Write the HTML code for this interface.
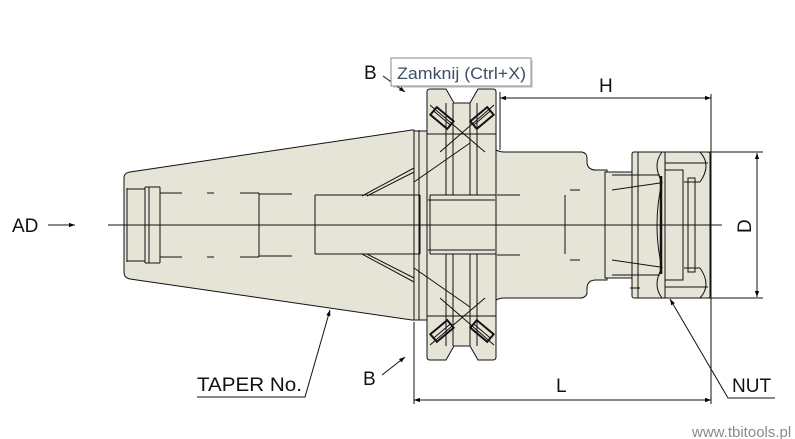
<!DOCTYPE html>
<html><head><meta charset="utf-8"><style>
html,body{margin:0;padding:0;background:#fff;}
svg{display:block;}
text{font-family:"Liberation Sans",sans-serif;}
</style></head><body>
<svg width="795" height="439" viewBox="0 0 795 439" xmlns="http://www.w3.org/2000/svg">
<defs>
<marker id="ar" viewBox="0 0 10 10" refX="10" refY="5" markerWidth="10" markerHeight="6" orient="auto-start-reverse" markerUnits="userSpaceOnUse"><path d="M0,1.5 L10,5 L0,8.5 z" fill="#000"/></marker>
<g id="brg" stroke="#111" fill="none">
<rect x="-11" y="-5" width="22" height="10" stroke-width="2"/>
<line x1="-11" y1="0" x2="11" y2="0" stroke-width="1"/>
</g>
</defs>
<g stroke="#111" stroke-width="1" fill="#e6e4d6">
<path d="M130,172 L412,130 L414,130 L414,320 L412,320 L130,279 Q124,278 124,272 L124,178 Q124,173 130,172 Z"/>
<rect x="414" y="131" width="13" height="189"/>
<path d="M496,150 Q500,152 504,152 L582,152 Q587,153 587,158 L587,163 Q588,170 596,170 L607,170 L607,280 L596,280 Q588,280 587,287 L587,293 Q586,298 580,298 L504,298 Q500,298 496,300 Z"/>
<rect x="605" y="172" width="27" height="106"/>
<rect x="632" y="152" width="78" height="146" rx="2"/>
<path d="M427,92 Q427,89 430,89 L446,89 L454,103 L470,103 L478,89 L493,89 Q496,89 496,92 L496,357 Q496,360 493,360 L478,360 L470,346 L454,346 L446,360 L430,360 Q427,360 427,357 Z"/>
</g>
<g stroke="#111" stroke-width="1" fill="none">
<path d="M127,188 L127,262 M127,189 L145,189 M127,261 L145,261 M145,187 L160,187 M145,263 L160,263 M145,187 L145,263 M149,187 L149,263 M160,187 L160,263 M160,193 L182,193 M207,193 L214,193 M160,257 L182,257 M207,257 L214,257 M240,193 L259,193 M240,257 L259,257 M259,193 L259,257 M259,194 L292,194 M259,256 L292,256"/>
<path d="M315,195 L315,254 M315,195 L420,195 M315,254 L420,254 M420,195 L420,254"/>
<path d="M362,196 L414,168 M367,196 L414,172 M362,254 L414,282 M367,254 L414,278"/>
<path d="M419,130 L419,320"/>
<path d="M414,182 L470,143 M414,268 L470,307 M430,195 L430,254 M428,200 L495,200 M428,250 L495,250 M430,195 L496,195 M430,254 L496,254"/>
<path d="M446,103 L446,195 M453,103 L453,195 M470,103 L470,195 M477,103 L477,195 M446,254 L446,346 M453,254 L453,346 M470,254 L470,346 M477,254 L477,346"/>
<path d="M430,105 L485,152 M494,105 L440,152 M427,134 L496,134"/>
<path d="M430,345 L485,298 M494,345 L440,298 M427,316 L496,316"/>
<path d="M497,195 L520,195 M497,255 L520,255 M565,195 L565,254 M570,190 L580,190 M570,260 L580,260"/>
<path d="M612,175 L660,175 M612,275 L660,275 M612,190 L660,183 M612,260 L660,267"/>
<path d="M638,152 L638,298 M665,152 L665,298 M665,170 L683,170 L683,280 L665,280 M688,178 L695,178 L695,272 L688,272 Z M684,182 L700,182 M684,268 L700,268"/>
<path d="M662,152 Q652,165 662,182 Q652,225 662,268 Q652,285 662,298 M700,152 Q712,165 700,182 M700,268 Q712,285 700,298 M665,163 L708,163 M665,287 L708,287"/>
<path d="M630,288 L640,288 M632,283 L632,293"/>
</g>
<path d="M661,176 L661,274" stroke="#111" stroke-width="2.5"/>
<use href="#brg" transform="translate(442,118) rotate(40)"/>
<use href="#brg" transform="translate(482,118) rotate(-40)"/>
<use href="#brg" transform="translate(442,331) rotate(-40)"/>
<use href="#brg" transform="translate(482,331) rotate(40)"/>
<line x1="108" y1="225" x2="722" y2="225" stroke="#111" stroke-width="1"/>
<g stroke="#111" stroke-width="1" fill="none">
<line x1="500" y1="92" x2="500" y2="150"/>
<line x1="711" y1="94" x2="711" y2="404"/>
<line x1="414" y1="322" x2="414" y2="404"/>
<line x1="500" y1="98" x2="711" y2="98" marker-start="url(#ar)" marker-end="url(#ar)"/>
<line x1="414" y1="400" x2="711" y2="400" marker-start="url(#ar)" marker-end="url(#ar)"/>
<line x1="690" y1="152" x2="763" y2="152"/>
<line x1="690" y1="298" x2="763" y2="298"/>
<line x1="757" y1="153" x2="757" y2="297" marker-start="url(#ar)" marker-end="url(#ar)"/>
<line x1="48" y1="225" x2="75" y2="225" marker-end="url(#ar)"/>
<polyline points="197,397 305,397 330,310" marker-end="url(#ar)"/>
<polyline points="775,398 728,398 670,299" marker-end="url(#ar)"/>
<line x1="383" y1="76" x2="405" y2="92" marker-end="url(#ar)"/>
<line x1="382" y1="375" x2="405" y2="357" marker-end="url(#ar)"/>
</g>
<g fill="#111" font-size="19">
<text x="12" y="232">AD</text>
<text x="599" y="92">H</text>
<text x="556" y="392">L</text>
<text x="197" y="391" textLength="105" lengthAdjust="spacingAndGlyphs">TAPER No.</text>
<text x="732" y="392">NUT</text>
<text x="364" y="79">B</text>
<text x="363" y="385">B</text>
<text x="0" y="0" transform="translate(751,233) rotate(-90)">D</text>
</g>
<rect x="393" y="60" width="140" height="28" fill="#666" opacity="0.25"/>
<rect x="391" y="58" width="140" height="28" fill="#fff" stroke="#888" stroke-width="1"/>
<text x="397" y="79" font-size="16.5" fill="#3b4f66" textLength="129" lengthAdjust="spacingAndGlyphs">Zamknij (Ctrl+X)</text>
<text x="692" y="437" font-size="15" fill="#8a8a8a">www.tbitools.pl</text>
</svg>
</body></html>
